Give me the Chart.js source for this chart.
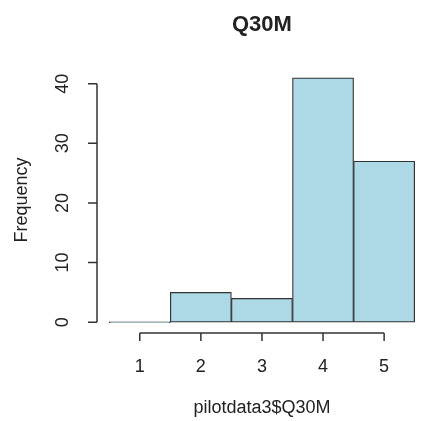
<!DOCTYPE html>
<html>
<head>
<meta charset="utf-8">
<script src="https://cdn.jsdelivr.net/npm/chart.js@4"></script>
<style>
  html, body { margin: 0; padding: 0; background: #fff; }
  #wrap { width: 422px; height: 421px; }
</style>
</head>
<body>
<div id="wrap"><canvas id="histChart" width="422" height="421"></canvas></div>
<script>
// Dados do histograma (pilotdata3$Q30M)
const mainTitle = 'Q30M';
const xTitle = 'pilotdata3$Q30M';
const yTitle = 'Frequency';
const categorias = [1, 2, 3, 4, 5];
const frequencias = [0, 5, 4, 41, 27];
const xTicks = [1, 2, 3, 4, 5];
const yTicks = [0, 10, 20, 30, 40];

// limites como no R (range + 4%); a margem direita fica cortada pela janela
const xLo = categorias[0] - 0.5, xHi = categorias[categorias.length - 1] + 0.5;
const yHi = Math.max(...frequencias);
const xPad = (xHi - xLo) * 0.04, yPad = yHi * 0.04;

const fonte = '"Liberation Sans", Arial, sans-serif';

// eixos desenhados à maneira do R
const eixosR = {
    id: 'eixosR',
    afterDraw(chart) {
        const { ctx, chartArea, scales: { x, y } } = chart;
        ctx.save();
        ctx.strokeStyle = '#333';
        ctx.lineWidth = 1.5;
        ctx.fillStyle = '#222';

        // eixo x
        const ay = chartArea.bottom + 1;
        ctx.beginPath();
        ctx.moveTo(x.getPixelForValue(xTicks[0]), ay);
        ctx.lineTo(x.getPixelForValue(xTicks[xTicks.length - 1]), ay);
        xTicks.forEach(t => {
            const px = x.getPixelForValue(t);
            ctx.moveTo(px, ay);
            ctx.lineTo(px, ay + 8);
        });
        ctx.stroke();
        ctx.font = '18px ' + fonte;
        ctx.textAlign = 'center';
        ctx.textBaseline = 'middle';
        xTicks.forEach(t => ctx.fillText(String(t), x.getPixelForValue(t), 367));

        // eixo y
        const ax = chartArea.left;
        ctx.beginPath();
        ctx.moveTo(ax, y.getPixelForValue(yTicks[0]));
        ctx.lineTo(ax, y.getPixelForValue(yTicks[yTicks.length - 1]));
        yTicks.forEach(t => {
            const py = y.getPixelForValue(t);
            ctx.moveTo(ax, py);
            ctx.lineTo(ax - 9, py);
        });
        ctx.stroke();
        yTicks.forEach(t => {
            ctx.save();
            ctx.translate(63, y.getPixelForValue(t));
            ctx.rotate(-Math.PI / 2);
            ctx.fillText(String(t), 0, 0);
            ctx.restore();
        });

        // títulos (centrados na região completa do gráfico)
        const cx = x.getPixelForValue((xLo + xHi) / 2);
        ctx.fillText(xTitle, cx, 408);
        ctx.save();
        ctx.translate(22, (chartArea.top + chartArea.bottom) / 2);
        ctx.rotate(-Math.PI / 2);
        ctx.fillText(yTitle, 0, 0);
        ctx.restore();
        ctx.font = 'bold 22px ' + fonte;
        ctx.fillText(mainTitle, cx, 25);
        ctx.restore();
    }
};

new Chart(document.getElementById('histChart'), {
    type: 'bar',
    data: {
        datasets: [{
            label: xTitle,
            data: categorias.map((c, i) => ({ x: c, y: frequencias[i] })),
            backgroundColor: '#ADD8E6',
            borderColor: '#333',
            borderWidth: 1.2,
            borderSkipped: false,
            minBarLength: 1,
            barPercentage: 1,
            categoryPercentage: 1
        }]
    },
    options: {
        responsive: false,
        animation: false,
        layout: { padding: { left: 97, right: 0, top: 68, bottom: 89 } },
        scales: {
            x: {
                type: 'linear', display: false, offset: false,
                min: xLo - xPad, max: xHi + xPad - 0.08,
                ticks: { stepSize: 1, includeBounds: false }
            },
            y: { display: false, min: -yPad, max: yHi + yPad }
        },
        plugins: {
            legend: { display: false },
            tooltip: { enabled: false }
        }
    },
    plugins: [eixosR]
});
</script>
</body>
</html>
